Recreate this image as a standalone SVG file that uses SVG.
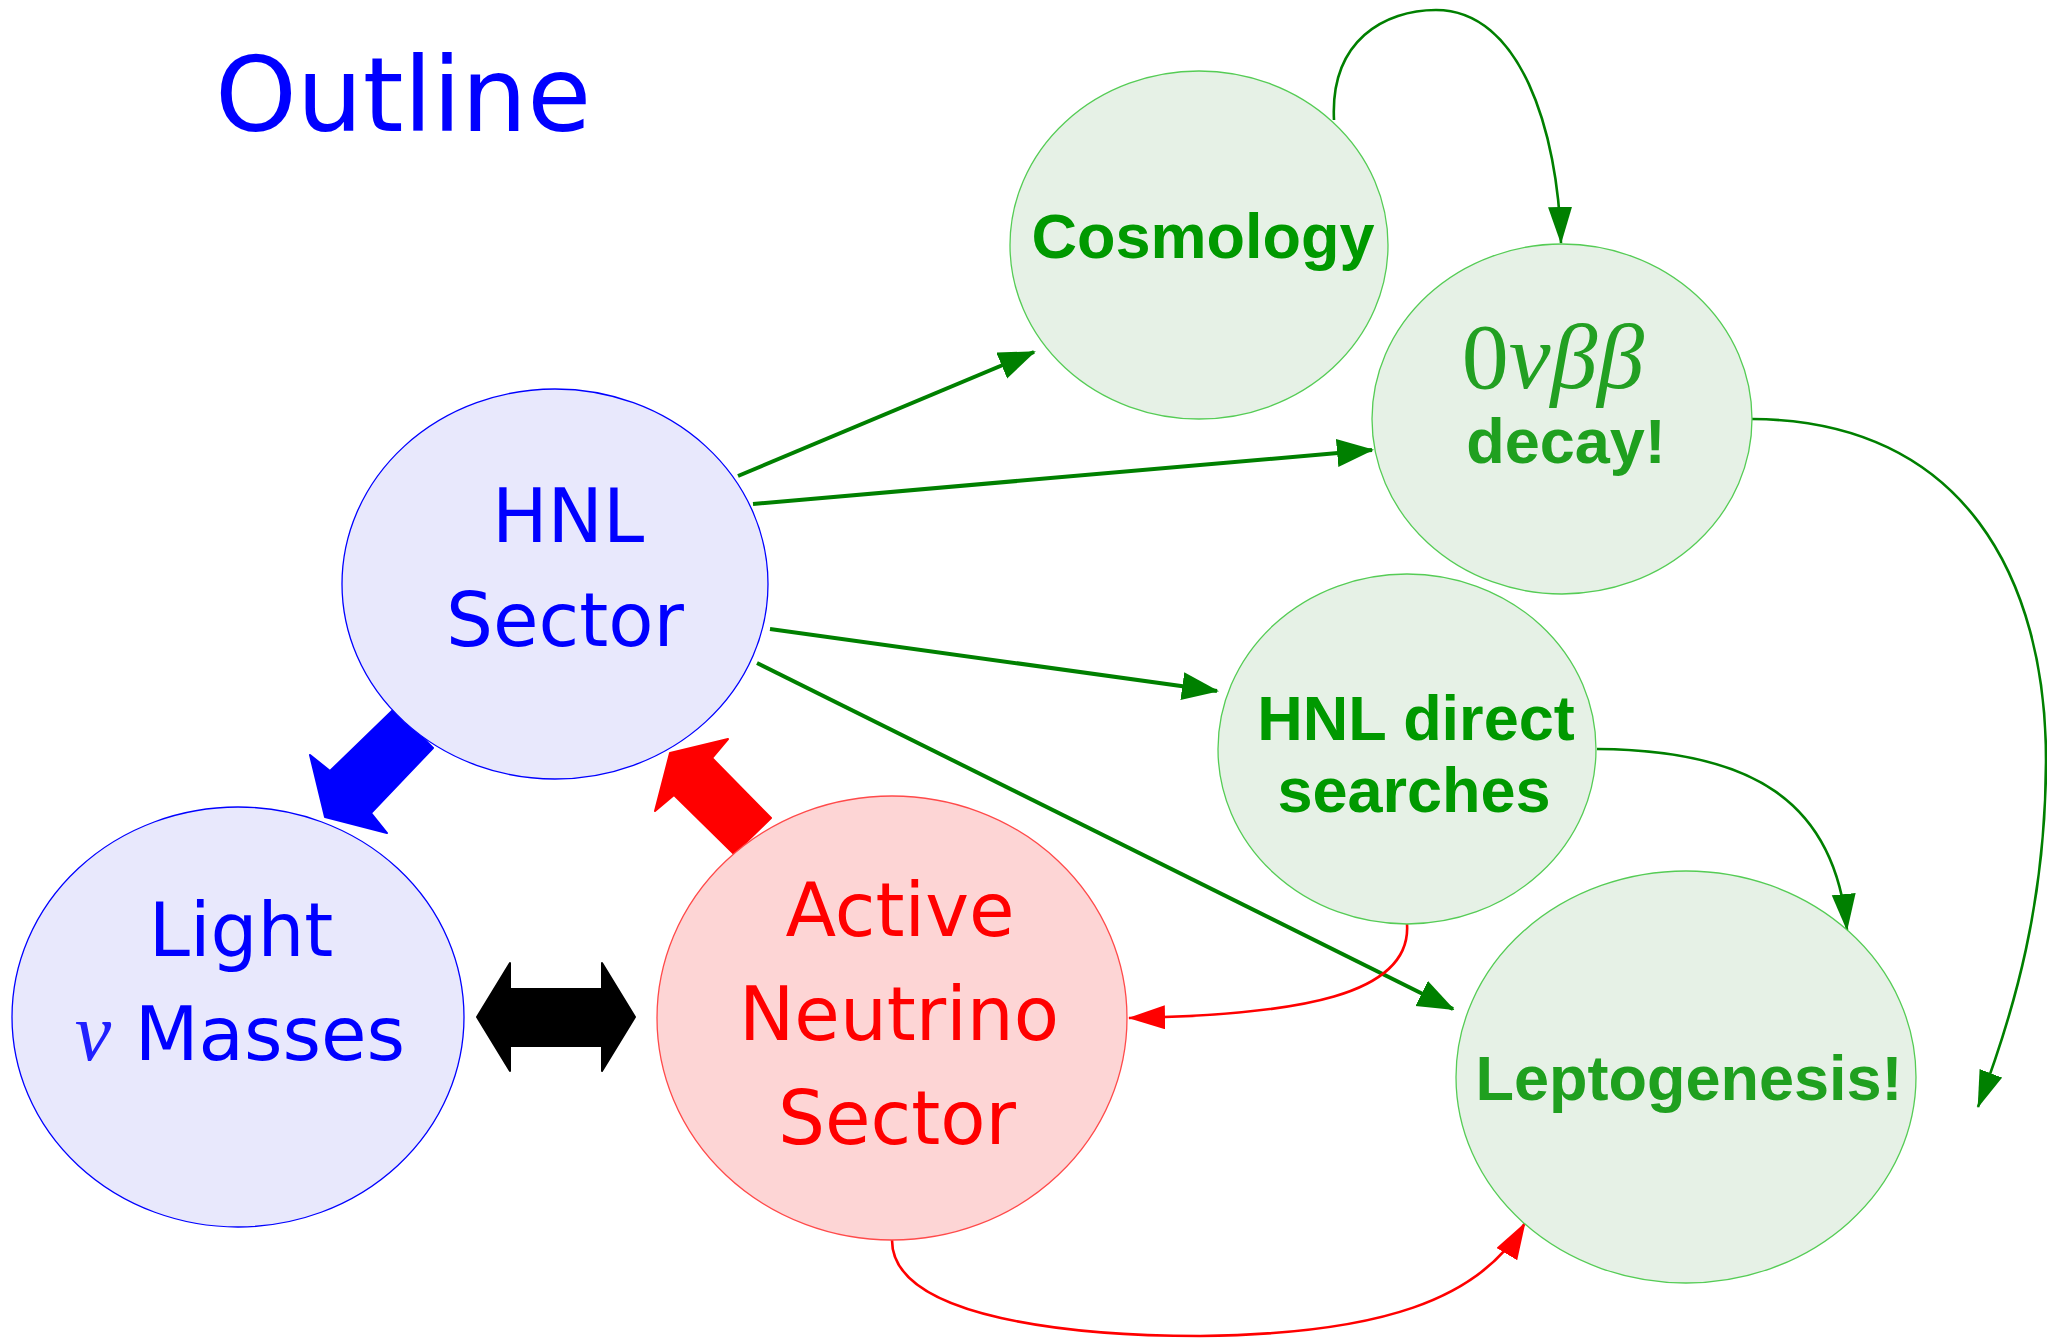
<svg xmlns="http://www.w3.org/2000/svg" width="2047" height="1338" viewBox="0 0 2047 1338">
<style>
.blue{fill:#e8e8fc;stroke:#0000ff;stroke-width:1.3}
.green{fill:#e6f1e6;stroke:#55cc55;stroke-width:1.3}
.red{fill:#fdd5d5;stroke:#ff4a4a;stroke-width:1.3}
.hand{font-family:"DejaVu Sans",sans-serif;font-size:74px;text-anchor:middle}
.bold{font-family:"Liberation Sans",Arial,sans-serif;font-weight:bold;font-size:63px;text-anchor:middle}
.gline{fill:none;stroke:#008000;stroke-width:4}
.gcurve{fill:none;stroke:#008000;stroke-width:2.6}
.rcurve{fill:none;stroke:#ff0000;stroke-width:2.6}
</style>
<defs>
<marker id="ag" markerUnits="userSpaceOnUse" markerWidth="40" markerHeight="30" refX="35" refY="14" orient="auto"><path d="M0,0 L37,14 L0,28 z" fill="#008000"/></marker>
<marker id="agc" markerUnits="userSpaceOnUse" markerWidth="40" markerHeight="28" refX="36" refY="12" orient="auto"><path d="M0,0 L37,12 L0,24 z" fill="#008000"/></marker>
<marker id="ar" markerUnits="userSpaceOnUse" markerWidth="40" markerHeight="28" refX="36" refY="12" orient="auto"><path d="M0,0 L37,12 L0,24 z" fill="#ff0000"/></marker>
</defs>
<rect width="2047" height="1338" fill="#ffffff"/>
<text x="215" y="131" font-family="DejaVu Sans, sans-serif" font-size="104" fill="#0000ff">Outline</text>

<g id="connectors">
<line class="gline" x1="738" y1="476" x2="1034" y2="352" marker-end="url(#ag)"/>
<line class="gline" x1="753" y1="504" x2="1372" y2="450" marker-end="url(#ag)"/>
<line class="gline" x1="770" y1="629" x2="1217" y2="691" marker-end="url(#ag)"/>
<line class="gline" x1="757" y1="663" x2="1453" y2="1009" marker-end="url(#ag)"/>
<path class="gcurve" d="M1334,120 C1330,40 1385,10 1436,10 C1520,10 1558,130 1561,243" marker-end="url(#agc)"/>
<path class="gcurve" d="M1752,419 C1965,420 2046,580 2046,760 C2046,900 2015,1010 1978,1107" marker-end="url(#agc)"/>
<path class="gcurve" d="M1597,749 C1750,750 1835,800 1847,930" marker-end="url(#agc)"/>
<path class="rcurve" d="M1407,924 C1412,995 1300,1015 1129,1018" marker-end="url(#ar)"/>
<path class="rcurve" d="M892,1240 C892,1320 1080,1336 1200,1336 C1380,1334 1480,1300 1525,1223" marker-end="url(#ar)"/>
<polygon points="394,709 433,748 371,813 387,833 325,817 310,755 330,771" fill="#0000ff" stroke="#0000ff" stroke-width="2" stroke-linejoin="round"/>
<polygon points="734,854 674,795 655,811 670,753 728,739 712,758 771,818" fill="#ff0000" stroke="#ff0000" stroke-width="2" stroke-linejoin="round"/>
<polygon points="477,1017 510,963 510,989 602,989 602,963 635,1017 602,1071 602,1046 510,1046 510,1071" fill="#000000" stroke="#000000" stroke-width="2" stroke-linejoin="round"/>
</g>

<g id="cosmology">
<ellipse class="green" cx="1199" cy="245" rx="189" ry="174"/>
<text class="bold" x="1203" y="258" fill="#009900">Cosmology</text>
</g>
<g id="onbb">
<ellipse class="green" cx="1562" cy="419" rx="190" ry="175"/>
<text x="1553" y="388" font-family="Liberation Serif, serif" font-size="94" fill="#22a022" text-anchor="middle">0<tspan font-style="italic">νββ</tspan></text>
<text class="bold" x="1566" y="463" fill="#1fa01f">decay!</text>
</g>
<g id="hnl">
<ellipse class="blue" cx="555" cy="584" rx="213" ry="195"/>
<text class="hand" x="568" y="542" fill="#0000ff">HNL</text>
<text class="hand" x="565" y="646" fill="#0000ff">Sector</text>
</g>
<g id="direct">
<ellipse class="green" cx="1407" cy="749" rx="189" ry="175"/>
<text class="bold" x="1416" y="740" fill="#009900">HNL direct</text>
<text class="bold" x="1414" y="812" fill="#009900">searches</text>
</g>
<g id="lepto">
<ellipse class="green" cx="1686" cy="1077" rx="230" ry="206"/>
<text class="bold" x="1689" y="1100" fill="#1fa01f">Leptogenesis!</text>
</g>
<g id="light">
<ellipse class="blue" cx="238" cy="1017" rx="226" ry="210"/>
<text class="hand" x="241" y="956" fill="#0000ff">Light</text>
<text class="hand" x="240" y="1060" fill="#0000ff"><tspan font-family="Liberation Serif, serif" font-style="italic" font-size="82" fill="#2020ff">ν</tspan> Masses</text>
</g>
<g id="active">
<ellipse class="red" cx="892" cy="1018" rx="235" ry="222"/>
<text class="hand" x="900" y="936" fill="#ff0000">Active</text>
<text class="hand" x="899" y="1040" fill="#ff0000">Neutrino</text>
<text class="hand" x="897" y="1144" fill="#ff0000">Sector</text>
</g>
</svg>
